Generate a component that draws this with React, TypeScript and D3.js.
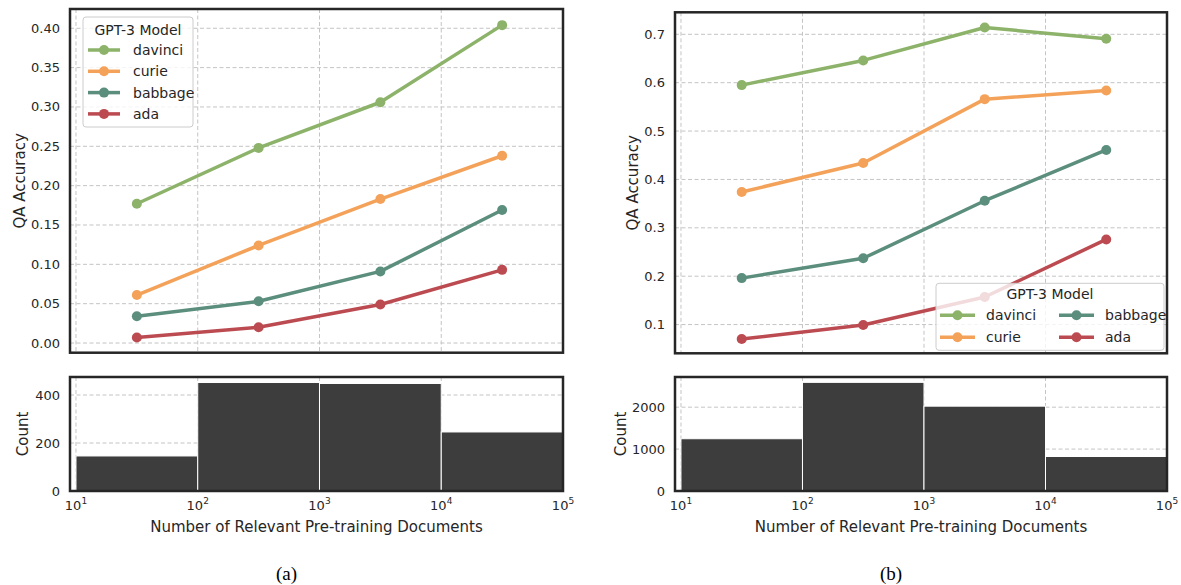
import React from "react";
import * as d3 from "d3";

const models = ["davinci", "curie", "babbage", "ada"];
const modelColors = ["#8cb369", "#f4a259", "#5b8e7d", "#bc4b51"];
const binCenters = [31.62, 316.2, 3162, 31623];
const binEdges = [10, 100, 1000, 10000, 100000];
const xTickExps = [1, 2, 3, 4, 5];

const leftAcc = [
  [0.177, 0.248, 0.306, 0.404],
  [0.061, 0.124, 0.183, 0.238],
  [0.034, 0.053, 0.091, 0.169],
  [0.007, 0.020, 0.049, 0.093],
];
const rightAcc = [
  [0.595, 0.646, 0.714, 0.691],
  [0.374, 0.434, 0.566, 0.584],
  [0.196, 0.237, 0.356, 0.461],
  [0.070, 0.099, 0.157, 0.276],
];
const leftCounts = [146, 452, 448, 246];
const rightCounts = [1247, 2592, 2024, 823];
const leftYTicks = [0, 0.05, 0.1, 0.15, 0.2, 0.25, 0.3, 0.35, 0.4];
const rightYTicks = [0.1, 0.2, 0.3, 0.4, 0.5, 0.6, 0.7];
const leftCountTicks = [0, 200, 400];
const rightCountTicks = [0, 1000, 2000];

const FONT = "DejaVu Sans, sans-serif";
const FRAME = "#262626";
const GRID = "#c4c4c4";

type PanelProps = {
  x0: number; x1: number;
  ty0: number; ty1: number;
  hy0: number; hy1: number;
  yDomain: [number, number];
  yTicks: number[];
  yFmt: (v: number) => string;
  acc: number[][];
  counts: number[];
  countTicks: number[];
  countMax: number;
  caption: string;
  legend: "left" | "right";
  yLabelOff: number;
  cLabelOff: number;
};

function Legend({ kind, x1, ty1, x0, ty0 }: { kind: "left" | "right"; x1: number; ty1: number; x0: number; ty0: number }) {
  if (kind === "left") {
    const bx = x0 + 13, by = ty0 + 8, bw = 110, bh = 110;
    return (
      <g>
        <rect x={bx} y={by} width={bw} height={bh} rx={3} fill="white" fillOpacity={0.8} stroke="#cccccc" strokeWidth={1} />
        <text x={bx + bw / 2} y={by + 18} textAnchor="middle" fontFamily={FONT} fontSize={14} fill="#262626">GPT-3 Model</text>
        {models.map((m, i) => {
          const yy = by + 33 + i * 21.3;
          return (
            <g key={m}>
              <line x1={bx + 5} x2={bx + 37} y1={yy} y2={yy} stroke={modelColors[i]} strokeWidth={3.5} />
              <circle cx={bx + 21} cy={yy} r={5} fill={modelColors[i]} />
              <text x={bx + 50} y={yy + 5} fontFamily={FONT} fontSize={14} fill="#262626">{m}</text>
            </g>
          );
        })}
      </g>
    );
  }
  const bw = 228, bh = 67;
  const bx = x1 - 3 - bw, by = ty1 - 3 - bh;
  return (
    <g>
      <rect x={bx} y={by} width={bw} height={bh} rx={3} fill="white" fillOpacity={0.8} stroke="#cccccc" strokeWidth={1} />
      <text x={bx + bw / 2} y={by + 16} textAnchor="middle" fontFamily={FONT} fontSize={14} fill="#262626">GPT-3 Model</text>
      {models.map((m, i) => {
        const col = i === 0 || i === 1 ? 0 : 1;
        const row = i === 0 || i === 2 ? 0 : 1;
        const hx = bx + 4 + col * 119;
        const yy = by + 32 + row * 22;
        return (
          <g key={m}>
            <line x1={hx} x2={hx + 35} y1={yy} y2={yy} stroke={modelColors[i]} strokeWidth={3.5} />
            <circle cx={hx + 17.5} cy={yy} r={5} fill={modelColors[i]} />
            <text x={hx + 46} y={yy + 5} fontFamily={FONT} fontSize={14} fill="#262626">{m}</text>
          </g>
        );
      })}
    </g>
  );
}

function Panel(p: PanelProps) {
  const x = d3.scaleLog().domain([8.93, 100000]).range([p.x0, p.x1]);
  const y = d3.scaleLinear().domain(p.yDomain).range([p.ty1, p.ty0]);
  const yc = d3.scaleLinear().domain([0, p.countMax]).range([p.hy1, p.hy0]);
  const line = d3.line<number>().x((_, i) => x(binCenters[i])).y((v) => y(v));
  const midX = (p.x0 + p.x1) / 2;
  return (
    <g>
      {xTickExps.map((e) => (
        <line key={"gx" + e} x1={x(10 ** e)} x2={x(10 ** e)} y1={p.ty0} y2={p.ty1} stroke={GRID} strokeDasharray="4,2.5" strokeWidth={1} />
      ))}
      {p.yTicks.map((t) => (
        <line key={"gy" + t} x1={p.x0} x2={p.x1} y1={y(t)} y2={y(t)} stroke={GRID} strokeDasharray="4,2.5" strokeWidth={1} />
      ))}
      {p.acc.map((vals, i) => (
        <g key={"s" + i}>
          <path d={line(vals) || ""} fill="none" stroke={modelColors[i]} strokeWidth={3.5} strokeLinejoin="round" />
          {vals.map((v, j) => (
            <circle key={j} cx={x(binCenters[j])} cy={y(v)} r={5} fill={modelColors[i]} />
          ))}
        </g>
      ))}
      <rect x={p.x0} y={p.ty0} width={p.x1 - p.x0} height={p.ty1 - p.ty0} fill="none" stroke={FRAME} strokeWidth={2.5} />
      {p.yTicks.map((t) => (
        <text key={"ty" + t} x={p.x0 - 10} y={y(t) + 4.5} textAnchor="end" fontFamily={FONT} fontSize={13} fill="#262626">{p.yFmt(t)}</text>
      ))}
      <text transform={`translate(${p.x0 - p.yLabelOff},${(p.ty0 + p.ty1) / 2}) rotate(-90)`} textAnchor="middle" fontFamily={FONT} fontSize={15} fill="#262626">QA Accuracy</text>
      <Legend kind={p.legend} x0={p.x0} x1={p.x1} ty0={p.ty0} ty1={p.ty1} />

      {xTickExps.map((e) => (
        <line key={"hx" + e} x1={x(10 ** e)} x2={x(10 ** e)} y1={p.hy0} y2={p.hy1} stroke={GRID} strokeDasharray="4,2.5" strokeWidth={1} />
      ))}
      {p.countTicks.map((t) => (
        <line key={"hy" + t} x1={p.x0} x2={p.x1} y1={yc(t)} y2={yc(t)} stroke={GRID} strokeDasharray="4,2.5" strokeWidth={1} />
      ))}
      {p.counts.map((c, i) => (
        <rect key={"b" + i} x={x(binEdges[i])} y={yc(c)} width={x(binEdges[i + 1]) - x(binEdges[i])} height={yc(0) - yc(c)} fill="#3d3d3d" stroke="white" strokeWidth={1} />
      ))}
      <rect x={p.x0} y={p.hy0} width={p.x1 - p.x0} height={p.hy1 - p.hy0} fill="none" stroke={FRAME} strokeWidth={2.5} />
      {p.countTicks.map((t) => (
        <text key={"tc" + t} x={p.x0 - 10} y={yc(t) + 4.5} textAnchor="end" fontFamily={FONT} fontSize={13} fill="#262626">{t}</text>
      ))}
      <text transform={`translate(${p.x0 - p.cLabelOff},${(p.hy0 + p.hy1) / 2}) rotate(-90)`} textAnchor="middle" fontFamily={FONT} fontSize={15} fill="#262626">Count</text>
      {xTickExps.map((e) => (
        <text key={"tx" + e} x={x(10 ** e)} y={p.hy1 + 19} textAnchor="middle" fontFamily={FONT} fontSize={13} fill="#262626">
          10<tspan dy={-6} fontSize={9}>{e}</tspan>
        </text>
      ))}
      <text x={midX} y={p.hy1 + 41} textAnchor="middle" fontFamily={FONT} fontSize={15} fill="#262626">Number of Relevant Pre-training Documents</text>
      <text x={midX - 30} y={580} textAnchor="middle" fontFamily="Liberation Serif, serif" fontSize={19} fill="#000">{p.caption}</text>
    </g>
  );
}

export default function App() {
  return (
    <svg width={1181} height={585} style={{ position: "absolute", left: 0, top: 0, background: "white" }}>
      <Panel x0={70} x1={563} ty0={9} ty1={352.7} hy0={377} hy1={491}
        yDomain={[-0.0123, 0.4245]} yTicks={leftYTicks} yFmt={(v) => v.toFixed(2)}
        acc={leftAcc} counts={leftCounts} countTicks={leftCountTicks} countMax={475}
        caption="(a)" legend="left" yLabelOff={45} cLabelOff={42} />
      <Panel x0={675} x1={1167} ty0={12.3} ty1={353.3} hy0={377} hy1={491}
        yDomain={[0.0406, 0.7455]} yTicks={rightYTicks} yFmt={(v) => v.toFixed(1)}
        acc={rightAcc} counts={rightCounts} countTicks={rightCountTicks} countMax={2720}
        caption="(b)" legend="right" yLabelOff={37} cLabelOff={49} />
    </svg>
  );
}
